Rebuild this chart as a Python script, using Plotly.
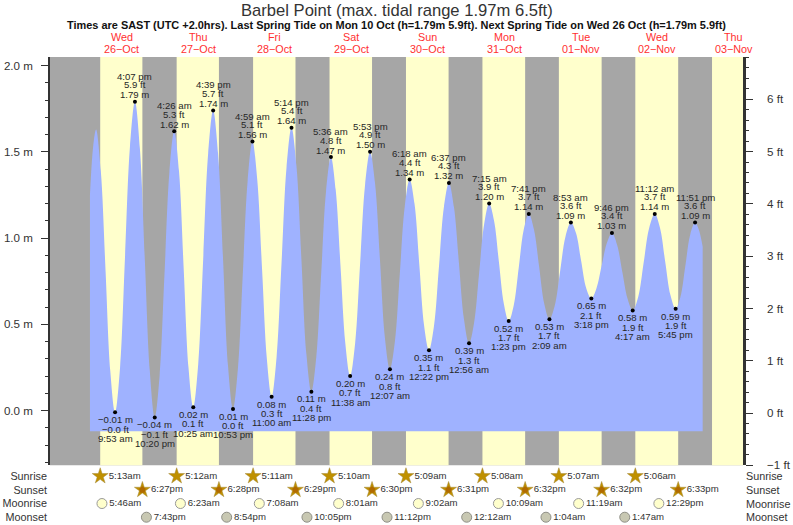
"""Barbel Point tide chart, 26 Oct - 3 Nov 2022."""
import plotly.graph_objects as go

FONT = "Liberation Sans"
_GREY, _YELLOW, _BLUE, _INK = "#a6a6a6", "#ffffcc", "#9fb2ff", "#262626"

TITLE = "Barbel Point (max. tidal range 1.97m 6.5ft)"
SUBTITLE = ("Times are SAST (UTC +2.0hrs). Last Spring Tide on Mon 10 Oct (h=1.79m 5.9ft). "
            "Next Spring Tide on Wed 26 Oct (h=1.79m 5.9ft)")

day_noon = ["2022-10-26 12:00", "2022-10-27 12:00", "2022-10-28 12:00", "2022-10-29 12:00", "2022-10-30 12:00",
            "2022-10-31 12:00", "2022-11-01 12:00", "2022-11-02 12:00", "2022-11-03 12:00"]
day_names = ["Wed", "Thu", "Fri", "Sat", "Sun", "Mon", "Tue", "Wed", "Thu"]
day_dates = ["26−Oct", "27−Oct", "28−Oct", "29−Oct", "30−Oct", "31−Oct", "01−Nov", "02−Nov", "03−Nov"]

# high/low waters as printed on the chart, low first
tide_times = ["2022-10-26 09:53", "2022-10-26 16:07", "2022-10-26 22:20",
              "2022-10-27 04:26", "2022-10-27 10:25", "2022-10-27 16:39", "2022-10-27 22:53",
              "2022-10-28 04:59", "2022-10-28 11:00", "2022-10-28 17:14", "2022-10-28 23:28",
              "2022-10-29 05:36", "2022-10-29 11:38", "2022-10-29 17:53",
              "2022-10-30 00:07", "2022-10-30 06:18", "2022-10-30 12:22", "2022-10-30 18:37",
              "2022-10-31 00:56", "2022-10-31 07:15", "2022-10-31 13:23", "2022-10-31 19:41",
              "2022-11-01 02:09", "2022-11-01 08:53", "2022-11-01 15:18", "2022-11-01 21:46",
              "2022-11-02 04:17", "2022-11-02 11:12", "2022-11-02 17:45", "2022-11-02 23:51"]
tide_m = [-0.01, 1.79, -0.04, 1.62, 0.02, 1.74, 0.01, 1.56, 0.08, 1.64, 0.11, 1.47, 0.20, 1.50, 0.24,
          1.34, 0.35, 1.32, 0.39, 1.20, 0.52, 1.14, 0.53, 1.09, 0.65, 1.03, 0.58, 1.14, 0.59, 1.09]
tide_ft = ["−0.0", "5.9", "−0.1", "5.3", "0.1", "5.7", "0.0", "5.1", "0.3", "5.4", "0.4", "4.8", "0.7", "4.9", "0.8",
           "4.4", "1.1", "4.3", "1.3", "3.9", "1.7", "3.7", "1.7", "3.6", "2.1", "3.4", "1.9", "3.7", "1.9", "3.6"]
tide_clock = ["9:53 am", "4:07 pm", "10:20 pm", "4:26 am", "10:25 am", "4:39 pm", "10:53 pm", "4:59 am", "11:00 am",
              "5:14 pm", "11:28 pm", "5:36 am", "11:38 am", "5:53 pm", "12:07 am", "6:18 am", "12:22 pm", "6:37 pm",
              "12:56 am", "7:15 am", "1:23 pm", "7:41 pm", "2:09 am", "8:53 am", "3:18 pm", "9:46 pm", "4:17 am",
              "11:12 am", "5:45 pm", "11:51 pm"]

# water level read along the blue edge
curve = [("10-26 02:00", 1.25), ("10-26 03:00", 1.53), ("10-26 03:55", 1.63), ("10-26 05:24", 1.39), ("10-26 06:54", 0.81),
         ("10-26 08:23", 0.23), ("10-26 09:53", -0.01), ("10-26 11:27", 0.25), ("10-26 13:00", 0.89), ("10-26 14:33", 1.53),
         ("10-26 16:07", 1.79), ("10-26 17:40", 1.52), ("10-26 19:13", 0.875), ("10-26 20:47", 0.23), ("10-26 22:20", -0.04),
         ("10-26 23:51", 0.20), ("10-27 01:23", 0.79), ("10-27 02:55", 1.38), ("10-27 04:26", 1.62), ("10-27 05:56", 1.39),
         ("10-27 07:25", 0.82), ("10-27 08:55", 0.25), ("10-27 10:25", 0.02), ("10-27 11:58", 0.27), ("10-27 13:32", 0.88),
         ("10-27 15:05", 1.49), ("10-27 16:39", 1.74), ("10-27 18:12", 1.49), ("10-27 19:46", 0.875), ("10-27 21:19", 0.26),
         ("10-27 22:53", 0.01), ("10-28 00:24", 0.24), ("10-28 01:56", 0.785), ("10-28 03:28", 1.33), ("10-28 04:59", 1.56),
         ("10-28 06:29", 1.34), ("10-28 08:00", 0.82), ("10-28 09:30", 0.30), ("10-28 11:00", 0.08), ("10-28 12:33", 0.31),
         ("10-28 14:07", 0.86), ("10-28 15:40", 1.41), ("10-28 17:14", 1.64), ("10-28 18:47", 1.42), ("10-28 20:21", 0.875),
         ("10-28 21:54", 0.33), ("10-28 23:28", 0.11), ("10-29 01:00", 0.31), ("10-29 02:32", 0.79), ("10-29 04:04", 1.27),
         ("10-29 05:36", 1.47), ("10-29 07:06", 1.28), ("10-29 08:37", 0.835), ("10-29 10:07", 0.39), ("10-29 11:38", 0.20),
         ("10-29 13:12", 0.39), ("10-29 14:45", 0.85), ("10-29 16:19", 1.31), ("10-29 17:53", 1.50), ("10-29 19:26", 1.32),
         ("10-29 21:00", 0.87), ("10-29 22:33", 0.42), ("10-30 00:07", 0.24), ("10-30 01:40", 0.40), ("10-30 03:12", 0.79),
         ("10-30 04:45", 1.18), ("10-30 06:18", 1.34), ("10-30 07:49", 1.20), ("10-30 09:20", 0.845), ("10-30 10:51", 0.49),
         ("10-30 12:22", 0.35), ("10-30 13:56", 0.49), ("10-30 15:30", 0.835), ("10-30 17:03", 1.18), ("10-30 18:37", 1.32),
         ("10-30 20:12", 1.18), ("10-30 21:46", 0.855), ("10-30 23:21", 0.53), ("10-31 00:56", 0.39), ("10-31 02:31", 0.51),
         ("10-31 04:05", 0.795), ("10-31 05:40", 1.08), ("10-31 07:15", 1.20), ("10-31 08:47", 1.10), ("10-31 10:19", 0.86),
         ("10-31 11:51", 0.62), ("10-31 13:23", 0.52), ("10-31 14:57", 0.61), ("10-31 16:32", 0.83), ("10-31 18:06", 1.05),
         ("10-31 19:41", 1.14), ("10-31 21:18", 1.05), ("10-31 22:55", 0.835), ("11-01 00:32", 0.62), ("11-01 02:09", 0.53),
         ("11-01 03:50", 0.61), ("11-01 05:31", 0.81), ("11-01 07:12", 1.01), ("11-01 08:53", 1.09), ("11-01 10:29", 1.03),
         ("11-01 12:05", 0.87), ("11-01 13:42", 0.71), ("11-01 15:18", 0.65), ("11-01 16:55", 0.71), ("11-01 18:32", 0.84),
         ("11-01 20:09", 0.97), ("11-01 21:46", 1.03), ("11-01 23:24", 0.96), ("11-02 01:01", 0.805), ("11-02 02:39", 0.65),
         ("11-02 04:17", 0.58), ("11-02 06:01", 0.66), ("11-02 07:44", 0.86), ("11-02 09:28", 1.06), ("11-02 11:12", 1.14),
         ("11-02 12:50", 1.06), ("11-02 14:28", 0.865), ("11-02 16:07", 0.67), ("11-02 17:45", 0.59), ("11-02 19:16", 0.66),
         ("11-02 20:48", 0.84), ("11-02 22:19", 1.02), ("11-02 23:51", 1.09), ("11-03 01:00", 1.05), ("11-03 02:14", 0.95)]
curve_x = ["2022-" + t for t, _ in curve]
curve_y = [v for _, v in curve]
BASE_M = -0.12

sunrise = ["2022-10-26 05:13", "2022-10-27 05:12", "2022-10-28 05:11", "2022-10-29 05:10",
           "2022-10-30 05:09", "2022-10-31 05:08", "2022-11-01 05:07", "2022-11-02 05:06"]
sunrise_txt = ["5:13am", "5:12am", "5:11am", "5:10am", "5:09am", "5:08am", "5:07am", "5:06am"]
sunset = ["2022-10-26 18:27", "2022-10-27 18:28", "2022-10-28 18:29", "2022-10-29 18:30",
          "2022-10-30 18:31", "2022-10-31 18:32", "2022-11-01 18:32", "2022-11-02 18:33"]
sunset_txt = ["6:27pm", "6:28pm", "6:29pm", "6:30pm", "6:31pm", "6:32pm", "6:32pm", "6:33pm"]
moonrise = ["2022-10-26 05:46", "2022-10-27 06:23", "2022-10-28 07:08", "2022-10-29 08:01",
            "2022-10-30 09:02", "2022-10-31 10:09", "2022-11-01 11:19", "2022-11-02 12:29"]
moonrise_txt = ["5:46am", "6:23am", "7:08am", "8:01am", "9:02am", "10:09am", "11:19am", "12:29pm"]
moonset = ["2022-10-26 19:43", "2022-10-27 20:54", "2022-10-28 22:05", "2022-10-29 23:12",
           "2022-10-31 00:12", "2022-11-01 01:04", "2022-11-02 01:47"]
moonset_txt = ["7:43pm", "8:54pm", "10:05pm", "11:12pm", "12:12am", "1:04am", "1:47am"]
row_names = ["Sunrise", "Sunset", "Moonrise", "Moonset"]

X_RANGE = ["2022-10-25 13:28", "2022-11-03 14:53"]
NEXT_SUNRISE = "2022-11-03 05:10"

fig = go.Figure()

# level base first, the curve fills down to it
fig.add_scatter(x=[curve_x[0], curve_x[-1]], y=[BASE_M, BASE_M], mode="lines", line=dict(width=0),
                hoverinfo="skip", showlegend=False)
fig.add_scatter(x=curve_x, y=curve_y, mode="lines", line=dict(width=0, shape="spline"), fill="tonexty",
                fillcolor=_BLUE, hoverinfo="skip", showlegend=False)
fig.add_scatter(x=tide_times, y=tide_m, mode="markers", marker=dict(color="black", size=4), showlegend=False)
# dummy trace so the feet axis gets drawn
fig.add_scatter(x=tide_times[:1], y=[0], yaxis="y2", mode="markers", marker=dict(opacity=0),
                hoverinfo="skip", showlegend=False)


def _row(x, labels, name, **marker):
    fig.add_scatter(x=x, y=[name] * len(x), yaxis="y3", mode="markers+text", text=labels, textposition="middle right",
                    textfont=dict(family=FONT, size=9.6, color="#333333"), marker=marker, cliponaxis=False,
                    showlegend=False)


def _core(x, name, color):
    fig.add_scatter(x=x, y=[name] * len(x), yaxis="y3", mode="markers", cliponaxis=False, showlegend=False,
                    marker=dict(symbol="pentagon", size=7, color=color))


_row(sunrise, sunrise_txt, "Sunrise", symbol="star", size=12, color="#bf9000", line=dict(color="#a58a3a", width=0.5))
_core(sunrise, "Sunrise", "#bf9000")
_row(sunset, sunset_txt, "Sunset", symbol="star", size=12, color="#bf9000", line=dict(color="#a58a3a", width=0.5))
_core(sunset, "Sunset", "#b06a00")
_row(moonrise, moonrise_txt, "Moonrise", symbol="circle", size=10, color="#ffffcc", line=dict(color="#999999", width=1))
_row(moonset, moonset_txt, "Moonset", symbol="circle", size=10, color="#c8c8b2", line=dict(color="#8f8f86", width=1))

# daylight bands over the grey plot background
shapes = [dict(type="rect", xref="x", yref="y domain", x0=a, x1=b, y0=0, y1=1, fillcolor=_YELLOW,
               line_width=0, layer="below") for a, b in zip(sunrise, sunset)]
shapes.append(dict(type="rect", xref="x", yref="y domain", x0=NEXT_SUNRISE, x1=X_RANGE[1], y0=0, y1=1,
                   fillcolor=_YELLOW, line_width=0, layer="below"))
shapes.insert(0, dict(type="rect", xref="x", yref="y domain", x0=X_RANGE[0], x1=X_RANGE[1], y0=0, y1=1,
                      fillcolor=_GREY, line_width=0, layer="below"))

notes = [dict(text=TITLE, xref="paper", yref="paper", x=0.5, y=1.0985, font=dict(size=16.6, color="#333333")),
         dict(text=f"<b>{SUBTITLE}</b>", xref="paper", yref="paper", x=0.5, y=1.0675, font=dict(size=10.95, color="#111111"))]
for t, name, date in zip(day_noon, day_names, day_dates):
    notes.append(dict(text=name, xref="x", yref="paper", x=t, y=1.0425, font=dict(size=10.8, color="#ff3030")))
    notes.append(dict(text=date, xref="x", yref="paper", x=t, y=1.0165, font=dict(size=10.8, color="#ff3030")))
for i, (t, m, ft, clock) in enumerate(zip(tide_times, tide_m, tide_ft, tide_clock)):
    m_txt = f"{m:.2f} m".replace("-", "−")
    rows = [(m_txt, 7), (ft + " ft", 17), (clock, 25.5)]
    if i % 2 == 0:
        rows = [(m_txt, -7.3), (ft + " ft", -16.8), (clock, -26)]
    for txt, dy in rows:
        notes.append(dict(text=txt, xref="x", yref="y", x=t, y=m, yshift=dy, font=dict(size=9.6, color=_INK)))
for name in row_names:
    notes.append(dict(text=name, xref="paper", yref="y3", x=1.002, y=name, xanchor="left",
                      font=dict(size=10.8, color="#333333")))
for n in notes:
    n.setdefault("showarrow", False)
    n.setdefault("xanchor", "center")
    n.setdefault("yanchor", "middle")
    n["font"]["family"] = FONT

_TICK = dict(ticks="outside", tickcolor="#333333", showgrid=False, zeroline=False, showline=True,
             linecolor="#333333", tickfont=dict(family=FONT, size=11.6, color="#333333"))
fig.update_layout(
    width=793, height=525, autosize=False, margin=dict(l=50, r=50, t=57, b=0, pad=0, autoexpand=False),
    paper_bgcolor="white", plot_bgcolor="white", showlegend=False, shapes=shapes, annotations=notes,
    xaxis=dict(type="date", range=X_RANGE, anchor="y", showticklabels=False, ticks="", showgrid=False,
               zeroline=False),
    yaxis=dict(domain=[0.1276, 1], range=[-0.317, 2.05], tick0=0, dtick=0.5, tickformat=".1f", ticksuffix=" m",
               ticklen=7, linewidth=1.5, ticklabelstandoff=6, minor=dict(dtick=0.1, ticks="outside", ticklen=3.5, tickcolor="#333333"), **_TICK),
    yaxis2=dict(domain=[0.1276, 1], range=[-1, 6.81], overlaying="y", anchor="x", side="right", tick0=0, dtick=1,
                ticksuffix=" ft", ticklen=7, linewidth=2.5, ticklabelstandoff=12,
                minor=dict(dtick=0.2, ticks="outside", ticklen=3.5, tickcolor="#333333"), **_TICK),
    yaxis3=dict(domain=[0.002, 0.119], type="category", categoryarray=row_names, categoryorder="array",
                range=[3.5, -0.5], anchor="x", ticks="", showgrid=False, zeroline=False, showline=False,
                ticklabelstandoff=2, tickfont=dict(family=FONT, size=10.8, color="#333333")),
)

# page margin would push the fixed-size figure off the window
fig.write_html("out.html", config={"displayModeBar": False},
               post_script="document.body.style.margin='0';document.body.style.overflow='hidden';")
